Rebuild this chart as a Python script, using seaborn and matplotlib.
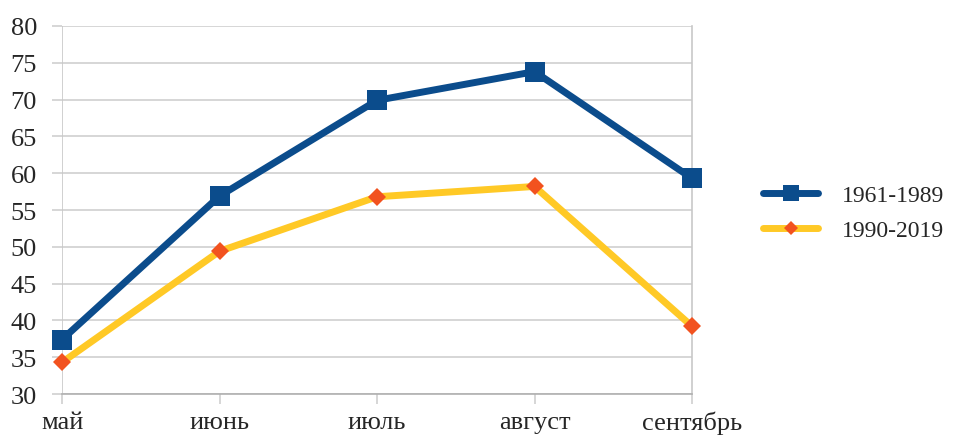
import matplotlib
matplotlib.use("Agg")
import matplotlib.pyplot as plt
import seaborn as sns
import pandas as pd

months = ["май", "июнь", "июль", "август", "сентябрь"]
period_1 = "1961-1989"
period_2 = "1990-2019"
values_1 = [37.4, 56.9, 69.9, 73.8, 59.3]
values_2 = [34.3, 49.4, 56.8, 58.2, 39.2]
y_ticks = [30, 35, 40, 45, 50, 55, 60, 65, 70, 75, 80]

sns.set_theme(style="white")
plt.rcParams["font.family"] = ["Liberation Serif", "DejaVu Serif"]

df = pd.DataFrame({
    "month": months * 2,
    "x": list(range(len(months))) * 2,
    "value": values_1 + values_2,
    "period": [period_1] * len(months) + [period_2] * len(months),
})

fig = plt.figure(figsize=(9.55, 4.39), dpi=100)
ax = fig.add_axes([0.065, 0.1002, 0.6596, 0.8383])

blue = "#0B4C8C"
yellow = "#FFC926"
orange = "#F2521F"

sns.lineplot(data=df[df.period == period_1], x="x", y="value", ax=ax,
             color=blue, linewidth=5, marker="s", markersize=14.5,
             markeredgewidth=0, markerfacecolor=blue, label=period_1,
             solid_joinstyle="round", zorder=4, clip_on=False)
sns.lineplot(data=df[df.period == period_2], x="x", y="value", ax=ax,
             color=yellow, linewidth=5, marker="D", markersize=9.5,
             markeredgewidth=0, markerfacecolor=orange, label=period_2,
             solid_joinstyle="round", zorder=3, clip_on=False)

ax.set_xlim(0, len(months) - 1)
ax.set_ylim(30, 80)
ax.set_yticks(y_ticks)
ax.set_xticks(range(len(months)))
ax.set_xticklabels(months)
ax.set_xlabel("")
ax.set_ylabel("")

ax.yaxis.grid(True, color="#D0D0D0", linewidth=1.2)
ax.xaxis.grid(False)
for side in ["top", "left"]:
    ax.spines[side].set_visible(False)
ax.spines["right"].set_color("#C8C8C8")
ax.spines["right"].set_linewidth(1.2)
ax.spines["bottom"].set_color("#B0B0B0")
ax.spines["bottom"].set_linewidth(1.2)
ax.axvline(0, color="#C8C8C8", linewidth=1.2, zorder=1)

ax.tick_params(axis="y", which="both", left=True, length=7, width=1.2,
               color="#D0D0D0", labelsize=19, labelcolor="#262626", pad=11)
ax.tick_params(axis="x", which="both", bottom=True, length=7, width=1.2,
               color="#D0D0D0", labelsize=19, labelcolor="#262626", pad=5)

leg = ax.legend(loc="center left", bbox_to_anchor=(1.079, 0.492), frameon=False,
                fontsize=17, handlelength=2.35, handletextpad=1.0,
                labelspacing=0.55, numpoints=1)
for t in leg.get_texts():
    t.set_color("#262626")
legend_marker_sizes = [11, 7.5]
for h, ms in zip(leg.get_lines(), legend_marker_sizes):
    h.set_solid_capstyle("round")
    h.set_markersize(ms)

fig.savefig("out.png", dpi=100)
